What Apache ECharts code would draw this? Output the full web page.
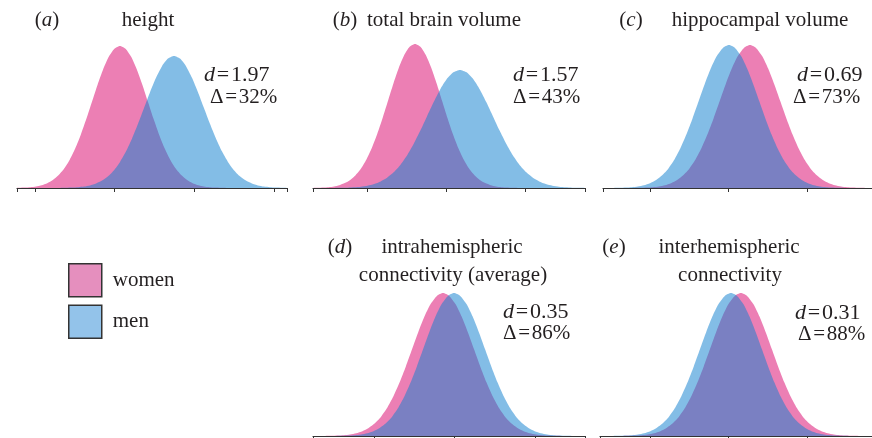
<!DOCTYPE html>
<html><head><meta charset="utf-8">
<script src="https://cdn.jsdelivr.net/npm/echarts@6/dist/echarts.min.js"></script>
<style>html,body{margin:0;padding:0;background:#fff}#c{width:872px;height:438px}</style>
</head><body><div id="c"></div>
<script>
// ---- data ----
const panelLetters = ['a', 'b', 'c', 'd', 'e'];
const panelTitles = [['height'], ['total brain volume'], ['hippocampal volume'],
  ['intrahemispheric', 'connectivity (average)'], ['interhemispheric', 'connectivity']];
const dValues = ['1.97', '1.57', '0.69', '0.35', '0.31'];
const deltaValues = ['32%', '43%', '73%', '86%', '88%'];
const seriesNames = ['women', 'men'];
// distribution centres / spreads in axis-tick units, peak heights relative to panel height
const womenMean = [1.066, 0.608, 1.274, 0.857, 1.159];
const womenSD   = [0.351, 0.342, 0.387, 0.385, 0.395];
const womenPeak = [0.947, 0.960, 0.953, 0.953, 0.953];
const menMean   = [1.744, 1.177, 1.006, 0.994, 1.032];
const menSD     = [0.376, 0.418, 0.387, 0.385, 0.395];
const menPeak   = [0.880, 0.787, 0.953, 0.953, 0.953];
const axisMin = [-0.226, -0.684, -0.60, -0.758, -0.637];
const axisMax = [3.162, 2.76, 2.83, 2.62, 2.83];
const tickValues = [[0, 1, 2, 3], [0, 1, 2], [0, 1, 2], [0, 1, 2], [0, 1, 2]];
// bell-curve profile: offset (in SD) and relative height
const bellZ = [-4, -3.8, -3.6, -3.4, -3.2, -3, -2.8, -2.6, -2.4, -2.2, -2, -1.8, -1.6, -1.4, -1.2, -1, -0.8, -0.6, -0.4, -0.2, 0,
  0.2, 0.4, 0.6, 0.8, 1, 1.2, 1.4, 1.6, 1.8, 2, 2.2, 2.4, 2.6, 2.8, 3, 3.2, 3.4, 3.6, 3.8, 4];
const bellY = [0.0003, 0.0007, 0.0015, 0.0031, 0.0060, 0.0111, 0.0198, 0.0340, 0.0561, 0.0889, 0.1353, 0.1979, 0.2780, 0.3753, 0.4868, 0.6065, 0.7261, 0.8353, 0.9231, 0.9802, 1,
  0.9802, 0.9231, 0.8353, 0.7261, 0.6065, 0.4868, 0.3753, 0.2780, 0.1979, 0.1353, 0.0889, 0.0561, 0.0340, 0.0198, 0.0111, 0.0060, 0.0031, 0.0015, 0.0007, 0.0003];

// ---- layout ----
const gridLayout = [
  {left: 17, width: 270, top: 38, height: 150},
  {left: 313, width: 272, top: 38, height: 150},
  {left: 603, width: 269, top: 38, height: 150},
  {left: 313, width: 272, top: 286, height: 150},
  {left: 600, width: 272, top: 286, height: 150}
];
const letterPos = [[47, 20], [345, 20], [631, 20], [340, 247], [614, 247]];
const titlePos = [[148, 20], [444, 20], [760, 20], [452, 247], [729, 247]];
const dPos = [[204, 75], [513, 75], [797, 75], [503, 312], [795, 313]];
const deltaPos = [[210, 97], [513, 97], [793, 97], [503, 333], [798, 334]];

const FONT = '"Liberation Serif", "Times New Roman", serif';
const TXT = '#231f20';
const PINK = '#ec7fb4';
const BLUE_A = 'rgba(18,128,207,0.52)';
const HS = '\u200a';

function curve(mean, sd, peak) {
  return bellZ.map((z, i) => [mean + z * sd, peak * bellY[i]]);
}

const grid = [], xAxis = [], yAxis = [], series = [], graphic = [];
panelLetters.forEach((L, p) => {
  grid.push(Object.assign({containLabel: false}, gridLayout[p]));
  xAxis.push({
    type: 'value', gridIndex: p, min: axisMin[p], max: axisMax[p], z: 5,
    splitLine: {show: false},
    axisLine: {show: true, onZero: false, lineStyle: {color: '#333', width: 1.2}},
    axisTick: {show: true, length: 4, lineStyle: {color: '#333', width: 1},
      customValues: [axisMin[p]].concat(tickValues[p], [axisMax[p]])},
    axisLabel: {show: false}
  });
  yAxis.push({type: 'value', gridIndex: p, min: 0, max: 1, show: false});
  series.push({
    name: seriesNames[0], type: 'line', xAxisIndex: p, yAxisIndex: p,
    data: curve(womenMean[p], womenSD[p], womenPeak[p]),
    showSymbol: false, smooth: 0.2, silent: true, z: 2,
    itemStyle: {color: PINK}, lineStyle: {width: 0}, areaStyle: {color: PINK, opacity: 1}
  });
  series.push({
    name: seriesNames[1], type: 'line', xAxisIndex: p, yAxisIndex: p,
    data: curve(menMean[p], menSD[p], menPeak[p]),
    showSymbol: false, smooth: 0.2, silent: true, z: 3,
    itemStyle: {color: BLUE_A}, lineStyle: {width: 0}, areaStyle: {color: BLUE_A, opacity: 1}
  });
  graphic.push({
    type: 'text', x: letterPos[p][0], y: letterPos[p][1],
    style: {text: '{n|(}{i|' + L + '}{n|)}', align: 'center', verticalAlign: 'middle',
      rich: {n: {font: '21px ' + FONT, fill: TXT}, i: {font: 'italic 21px ' + FONT, fill: TXT}}}
  });
  panelTitles[p].forEach((t, k) => {
    graphic.push({
      type: 'text', x: titlePos[p][0] + (k ? 1 : 0), y: titlePos[p][1] + k * 28,
      style: {text: t, font: '21px ' + FONT, fill: TXT, align: 'center', verticalAlign: 'middle'}
    });
  });
  graphic.push({
    type: 'text', x: dPos[p][0], y: dPos[p][1],
    style: {text: '{i|d}{n|' + HS + '=' + HS + dValues[p] + '}', align: 'left', verticalAlign: 'middle',
      rich: {n: {font: '22px ' + FONT, fill: TXT}, i: {font: 'italic 22px ' + FONT, fill: TXT}}}
  });
  graphic.push({
    type: 'text', x: deltaPos[p][0], y: deltaPos[p][1],
    style: {text: '\u0394' + HS + '=' + HS + deltaValues[p], font: '21px ' + FONT, fill: TXT, align: 'left', verticalAlign: 'middle'}
  });
});

const chart = echarts.init(document.getElementById('c'), null, {renderer: 'canvas'});
chart.setOption({
  animation: false,
  backgroundColor: '#fff',
  grid, xAxis, yAxis, series, graphic,
  legend: {
    orient: 'vertical', left: 68, top: 263, padding: 0, itemWidth: 33, itemHeight: 33, itemGap: 7,
    icon: 'rect', selectedMode: false,
    data: [
      {name: seriesNames[0], itemStyle: {color: '#e58fbe', borderColor: '#333', borderWidth: 1.5}},
      {name: seriesNames[1], itemStyle: {color: '#93c3ea', borderColor: '#333', borderWidth: 1.5}}
    ],
    textStyle: {fontFamily: FONT, fontSize: 21, color: TXT, padding: [0, 0, 0, 6]}
  }
});
</script>
</body></html>
